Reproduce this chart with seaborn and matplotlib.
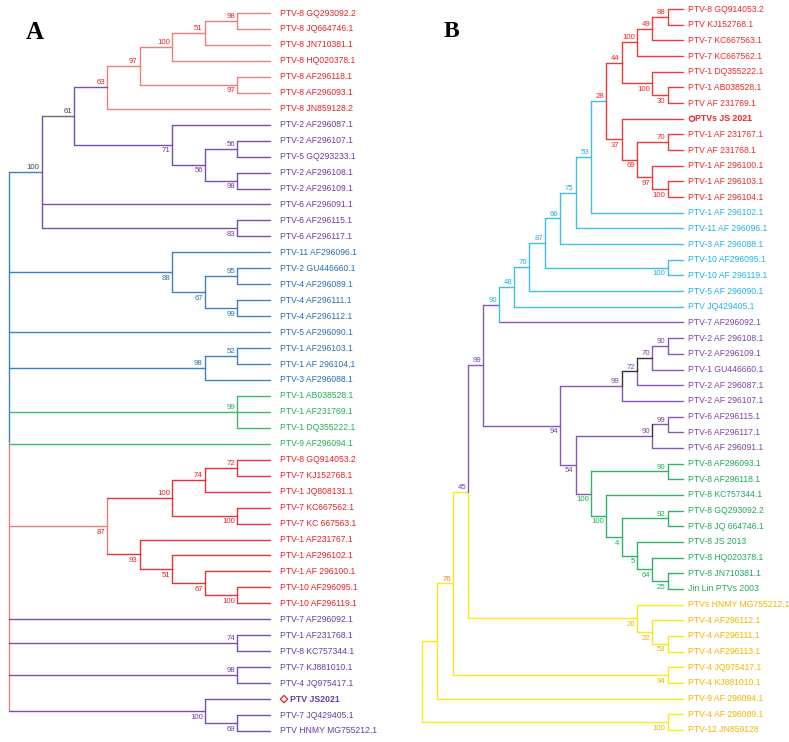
import re
import numpy as np
import pandas as pd
import matplotlib
matplotlib.use("Agg")
import matplotlib.pyplot as plt
import seaborn as sns

# ---------------- data ----------------
TIPS_A = [
    "PTV-8 GQ293092.2", "PTV-8 JQ664746.1", "PTV-8 JN710381.1", "PTV-8 HQ020378.1",
    "PTV-8 AF296118.1", "PTV-8 AF296093.1", "PTV-8 JN859128.2", "PTV-2 AF296087.1",
    "PTV-2 AF296107.1", "PTV-5 GQ293233.1", "PTV-2 AF296108.1", "PTV-2 AF296109.1",
    "PTV-6 AF296091.1", "PTV-6 AF296115.1", "PTV-6 AF296117.1", "PTV-11 AF296096.1",
    "PTV-2 GU446660.1", "PTV-4 AF296089.1", "PTV-4 AF296111.1", "PTV-4 AF296112.1",
    "PTV-5 AF296090.1", "PTV-1 AF296103.1", "PTV-1 AF 296104.1", "PTV-3 AF296088.1",
    "PTV-1 AB038528.1", "PTV-1 AF231769.1", "PTV-1 DQ355222.1", "PTV-9 AF296094.1",
    "PTV-8 GQ914053.2", "PTV-7 KJ152768.1", "PTV-1 JQ808131.1", "PTV-7 KC667562.1",
    "PTV-7 KC 667563.1", "PTV-1 AF231767.1", "PTV-1 AF296102.1", "PTV-1 AF 296100.1",
    "PTV-10 AF296095.1", "PTV-10 AF296119.1", "PTV-7 AF296092.1", "PTV-1 AF231768.1",
    "PTV-8 KC757344.1", "PTV-7 KJ881010.1", "PTV-4 JQ975417.1", "PTV JS2021",
    "PTV-7 JQ429405.1", "PTV HNMY MG755212.1",
]
GROUPS_A = list("qqqqqqq" "pppppppp" "bbbbbbbbb" "gggg" "rrrrrrrrrr" "pppppppp")
TREE_A = """
(
 (
  (
   (((((0,1)98,2)51,3)100,(4,5)97)97,6)63@p,
   (7,((8,9)56,(10,11)98)56)71
  )61#p@k!k,
  12,
  (13,14)83
 )100#p@b!k,
 (15,((16,17)95,(18,19)99)67)88,
 20,
 ((21,22)52,23)98^,
 (24,25,26)99^,
 27,
 ((((28,29)72,30)74,(31,32)100)100,(33,(34,(35,(36,37)100)67)51)93)87#q,
 38,
 (39,40)74^,
 (41,42)98^,
 (43,(44,45)69)100
)#b/q
"""
HIGHLIGHT_A = 43

TIPS_B = [
    "PTV-8 GQ914053.2", "PTV KJ152768.1", "PTV-7 KC667563.1", "PTV-7 KC667562.1",
    "PTV-1 DQ355222.1", "PTV-1 AB038528.1", "PTV AF 231769.1", "PTVs JS 2021",
    "PTV-1 AF 231767.1", "PTV AF 231768.1", "PTV-1 AF 296100.1", "PTV-1 AF 296103.1",
    "PTV-1 AF 296104.1", "PTV-1 AF 296102.1", "PTV-11 AF 296096.1", "PTV-3 AF 296088.1",
    "PTV-10 AF296095.1", "PTV-10 AF 296119.1", "PTV-5 AF 296090.1", "PTV JQ429405.1",
    "PTV-7 AF296092.1", "PTV-2 AF 296108.1", "PTV-2 AF296109.1", "PTV-1 GU446660.1",
    "PTV-2 AF 296087.1", "PTV-2 AF 296107.1", "PTV-6 AF296115.1", "PTV-6 AF296117.1",
    "PTV-6 AF 296091.1", "PTV-8 AF296093.1", "PTV-8 AF296118.1", "PTV-8 KC757344.1",
    "PTV-8 GQ293092.2", "PTV-8 JQ 664746.1", "PTV-8 JS 2013", "PTV-8 HQ020378.1",
    "PTV-8 JN710381.1", "Jin Lin PTVs 2003", "PTVs HNMY MG755212.1", "PTV-4 AF296112.1",
    "PTV-4 AF296111.1", "PTV-4 AF296113.1", "PTV-4 JQ975417.1", "PTV-4 KJ881010.1",
    "PTV-9 AF 296094.1", "PTV-4 AF 296089.1", "PTV-12 JN859128",
]
GROUPS_B = list("rrrrrrrrrrrrr" "ccccccc" "ppppppppp" "ggggggggg" "yyyyyyyyy")
TREE_B = """
(
 (
  (
   (
    (
     (
      (
       (
        (
         (
          (
           (
            (
             (
              (((0,1)88,2)49,3)100,
              (4,(5,6)30)100
             )44,
             (7,((8,9)70,(10,(11,12)100)97)69)37
            )28@c,
            13
           )53#c,
           14
          )75#c,
          15
         )66#c,
         (16,17)100
        )87#c,
        18
       )76#c,
       19
      )48#c,
      20
     )90#c@p,
     (
      ((((21,22)90,23)70@k,24)72#k/p@k!p,25)99#k/p@p!p,
      (
       ((26,27)99,28)90#k/p@p!p,
       ((29,30)90,(31,((32,33)92,(34,(35,(36,37)25)64)5)4)100)100@p
      )54#p
     )94#p
    )99#p,
    (38,(39,(40,41)53)22)26
   )45#p/y@y,
   (42,43)94
  )76#y!o,
  44
 )#y,
 (45,46)100
)#y
"""
HIGHLIGHT_B = 7

# ---------------- style ----------------
BRANCH_A = {"r": "#e8313a", "q": "#f07c7c", "p": "#7650ad", "b": "#3d80c4",
            "g": "#3cb96a", "k": "#6b6b6b"}
LABEL_A = {"r": "#e62129", "q": "#e62129", "p": "#6a3d9e", "b": "#2a6fb3",
           "g": "#25ad4f", "k": "#444444"}
BRANCH_B = {"r": "#f03a3a", "c": "#3ebfe9", "p": "#8458b4", "g": "#2fb36a",
            "y": "#f7ea1e", "k": "#333333"}
LABEL_B = {"r": "#f22626", "c": "#22b2e2", "p": "#7847a6", "g": "#1faa5a",
           "y": "#f2b600", "k": "#333333", "o": "#f07a30"}

sns.set_theme(style="white")
plt.rcParams["font.family"] = ["Liberation Sans", "DejaVu Sans"]

W, H = 789, 742
fig = plt.figure(figsize=(W / 100, H / 100), dpi=100)

TAG_RE = re.compile(r"^(\d*)(\^?)(?:#([a-z])(?:/([a-z]))?)?(?:@([a-z]))?(?:!([a-z]))?$")


def parse(s):
    s = "".join(s.split())
    pos = 0

    def node():
        nonlocal pos
        if s[pos] == "(":
            pos += 1
            ch = [node()]
            while s[pos] == ",":
                pos += 1
                ch.append(node())
            assert s[pos] == ")"
            pos += 1
            st = pos
            while pos < len(s) and s[pos] not in ",)":
                pos += 1
            m = TAG_RE.match(s[st:pos])
            return {"children": ch, "boot": m.group(1), "up": m.group(2) == "^",
                    "vc": (m.group(3), m.group(4)), "stem": m.group(5), "lc": m.group(6)}
        st = pos
        while s[pos] not in ",)":
            pos += 1
        return {"tip": int(s[st:pos])}

    return node()


def layout(n, groups):
    if "tip" in n:
        n["h"] = 0
        n["y"] = n["tip"]
        n["set"] = {groups[n["tip"]]}
        return
    for c in n["children"]:
        layout(c, groups)
    n["h"] = 1 + max(c["h"] for c in n["children"])
    n["y"] = (n["children"][0]["y"] + n["children"][-1]["y"]) / 2
    n["set"] = set().union(*[c["set"] for c in n["children"]])
    a, b = n["vc"]
    if a is None:
        a = next(iter(n["set"])) if len(n["set"]) == 1 else "k"
    n["vcol"] = (a, b if b else a)
    if n["stem"] is None:
        n["stem"] = a
    if n["lc"] is None:
        n["lc"] = a


def draw_tree(tree_str, tips, groups, bpal, lpal, box, highlight, hl_marker,
              label_off, mk_off, txt_off):
    left, right, root_px, tip_px, top_px, bot_px = box
    root = parse(tree_str)
    layout(root, groups)
    Ht = root["h"]
    n = len(tips)
    ppx = (tip_px - root_px) / Ht
    ppy = (bot_px - top_px) / (n - 1)
    ax = fig.add_axes([left / W, 0, (right - left) / W, 1])

    segs = []
    boots = []

    def walk(nd, parent, first):
        x = Ht - nd["h"]
        if parent is not None:
            px_ = Ht - parent["h"]
            col = groups[nd["tip"]] if "tip" in nd else nd["stem"]
            segs.append(((px_, nd["y"]), (x, nd["y"]), bpal[col]))
        if "tip" in nd:
            return
        ch = nd["children"]
        ua, lb = nd["vcol"]
        segs.append(((x, ch[0]["y"]), (x, nd["y"]), bpal[ua]))
        segs.append(((x, nd["y"]), (x, ch[-1]["y"]), bpal[lb]))
        if nd["boot"]:
            above = first or nd["up"]
            boots.append((x, nd["y"], nd["boot"], above, lpal[nd["lc"]]))
        for i, c in enumerate(ch):
            walk(c, nd, i == 0)

    walk(root, None, True)

    rows = []
    for i, (p0, p1, col) in enumerate(segs):
        rows.append({"seg": i, "x": p0[0], "y": p0[1], "col": col})
        rows.append({"seg": i, "x": p1[0], "y": p1[1], "col": col})
    df = pd.DataFrame(rows)
    pal = {c: c for c in df["col"].unique()}
    sns.lineplot(data=df, x="x", y="y", units="seg", hue="col", palette=pal,
                 estimator=None, sort=False, legend=False, linewidth=1.0, ax=ax)

    for x, y, txt, above, col in boots:
        if above:
            ax.annotate(txt, (x, y), xytext=(-1.4, 0.6), textcoords="offset points",
                        ha="right", va="bottom", fontsize=5.6, color=col)
        else:
            ax.annotate(txt, (x, y), xytext=(-1.4, -1.8), textcoords="offset points",
                        ha="right", va="top", fontsize=5.6, color=col)

    for i, t in enumerate(tips):
        col = lpal[groups[i]]
        if i == highlight:
            ax.scatter([Ht + mk_off / ppx], [i], marker=hl_marker, s=14,
                       facecolors="none", edgecolors="#e8202a", linewidths=0.9,
                       zorder=5)
            ax.text(Ht + txt_off / ppx, i, t, ha="left", va="center",
                    fontsize=6.3, fontweight="bold", color=col)
        else:
            ax.text(Ht + label_off / ppx, i, t, ha="left", va="center",
                    fontsize=6.2, color=col)

    ax.set_xlim((left - root_px) / ppx, (right - root_px) / ppx)
    ax.set_ylim((H - top_px) / ppy, -top_px / ppy)
    ax.axis("off")
    return ax


draw_tree(TREE_A, TIPS_A, GROUPS_A, BRANCH_A, LABEL_A,
          (0, 394.5, 9, 270, 13, 731), HIGHLIGHT_A, "D", 10, 14, 20)
draw_tree(TREE_B, TIPS_B, GROUPS_B, BRANCH_B, LABEL_B,
          (394.5, 789, 422, 683, 9, 730), HIGHLIGHT_B, "o", 5, 9, 12)

fig.text(26 / W, 1 - 21 / H, "A", ha="left", va="top", fontsize=18,
         fontweight="bold", family="Liberation Serif", color="black")
fig.text(444 / W, 1 - 21 / H, "B", ha="left", va="top", fontsize=17,
         fontweight="bold", family="Liberation Serif", color="black")

fig.savefig("out.png", dpi=100)
